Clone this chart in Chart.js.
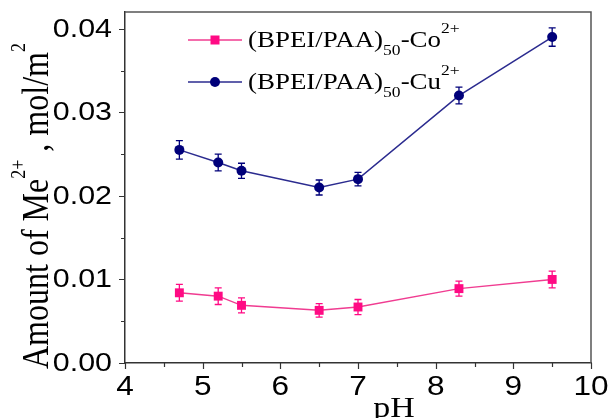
<!DOCTYPE html>
<html><head><meta charset="utf-8">
<script src="https://cdn.jsdelivr.net/npm/chart.js@4/dist/chart.umd.min.js"></script>
<style>html,body{margin:0;padding:0;background:#fff;}#wrap{width:611px;height:418px;position:relative;}</style>
</head><body><div id="wrap"><canvas id="c" width="611" height="418"></canvas></div>
<script>
// ---- data ----
const pH = [4.7, 5.2, 5.5, 6.5, 7.0, 8.3, 9.5];
const coValues = [0.0084, 0.0080, 0.0069, 0.0063, 0.0067, 0.0089, 0.0100];
const coErrors = [0.0010, 0.0010, 0.0009, 0.0008, 0.0009, 0.0009, 0.0010];
const cuValues = [0.0255, 0.0240, 0.0230, 0.0210, 0.0220, 0.0320, 0.0390];
const cuErrors = [0.0011, 0.0010, 0.0009, 0.0009, 0.0008, 0.0010, 0.0011];
const seriesNames = ['(BPEI/PAA)_{50}-Co^{2+}', '(BPEI/PAA)_{50}-Cu^{2+}'];
const xTickLabels = ['4', '5', '6', '7', '8', '9', '10'];
const yTickLabels = ['0.00', '0.01', '0.02', '0.03', '0.04'];
const xTitle = 'pH';
const yTitle = 'Amount of Me^{2+} , mol/m^{2}';

const CO_COLOR = '#ff0a84', CO_LINE = '#f03c91';
const CU_COLOR = '#00007a', CU_LINE = '#2b2b8f';
const SX = 1.17;

function parseRich(s) {
  const parts = []; const re = /([_^])\{([^}]*)\}|([^_^]+)/g; let m;
  while ((m = re.exec(s))) {
    if (m[3]) parts.push({ t: m[3], k: 'n' });
    else parts.push({ t: m[2], k: m[1] === '_' ? 'sub' : 'sup' });
  }
  return parts;
}
function drawRich(ctx, parts, x, y, main, small, subDy, supDy) {
  let cx = x;
  for (const p of parts) {
    ctx.font = p.k === 'n' ? main : small;
    const dy = p.k === 'sub' ? subDy : (p.k === 'sup' ? supDy : 0);
    ctx.fillText(p.t, cx, y + dy);
    cx += ctx.measureText(p.t).width;
  }
  return cx - x;
}

const errors = [coErrors, cuErrors];

const decor = {
  id: 'decor',
  beforeDatasetsDraw(chart) {
    const ctx = chart.ctx, xs = chart.scales.x, ys = chart.scales.y;
    chart.data.datasets.forEach((ds, di) => {
      ctx.save();
      ctx.strokeStyle = ds.pointBackgroundColor; ctx.lineWidth = 1.3;
      ds.data.forEach((p, i) => {
        const px = xs.getPixelForValue(p.x);
        const y1 = ys.getPixelForValue(p.y - errors[di][i]);
        const y2 = ys.getPixelForValue(p.y + errors[di][i]);
        ctx.beginPath();
        ctx.moveTo(px, y1); ctx.lineTo(px, y2);
        ctx.moveTo(px - 3.5, y1); ctx.lineTo(px + 3.5, y1);
        ctx.moveTo(px - 3.5, y2); ctx.lineTo(px + 3.5, y2);
        ctx.stroke();
      });
      ctx.restore();
    });
  },
  afterDraw(chart) {
    const ctx = chart.ctx, xs = chart.scales.x, ys = chart.scales.y, a = chart.chartArea;
    ctx.save();
    // frame top/right
    ctx.strokeStyle = '#555'; ctx.lineWidth = 1.5;
    ctx.beginPath();
    ctx.moveTo(a.left, a.top); ctx.lineTo(a.right, a.top); ctx.lineTo(a.right, a.bottom);
    ctx.stroke();
    // ticks
    ctx.strokeStyle = '#333'; ctx.lineWidth = 1.2;
    ctx.beginPath();
    xs.ticks.forEach(t => {
      const px = Math.round(xs.getPixelForValue(t.value)) + 0.5;
      ctx.moveTo(px, a.bottom); ctx.lineTo(px, a.bottom + 6);
      const mv = t.value + 0.5;
      if (mv < xs.max) { const mx = Math.round(xs.getPixelForValue(mv)) + 0.5; ctx.moveTo(mx, a.bottom); ctx.lineTo(mx, a.bottom + 4); }
    });
    ys.ticks.forEach(t => {
      const py = Math.round(ys.getPixelForValue(t.value)) + 0.5;
      ctx.moveTo(a.left, py); ctx.lineTo(a.left - 6, py);
      const mv = t.value + 0.005;
      if (mv < ys.max) { const my = Math.round(ys.getPixelForValue(mv)) + 0.5; ctx.moveTo(a.left, my); ctx.lineTo(a.left - 4, my); }
    });
    ctx.stroke();
    // tick labels
    ctx.fillStyle = '#000';
    ctx.textBaseline = 'alphabetic';
    xs.ticks.forEach((t, i) => {
      const px = xs.getPixelForValue(t.value);
      ctx.save(); ctx.translate(px, a.bottom + 32); ctx.scale(SX, 1);
      ctx.font = '27px "Liberation Sans", Arial, sans-serif'; ctx.textAlign = 'center';
      ctx.fillText(xTickLabels[i], 0, 0); ctx.restore();
    });
    ys.ticks.forEach((t, i) => {
      const py = ys.getPixelForValue(t.value);
      ctx.save(); ctx.translate(a.left - 13, py + 8); ctx.scale(SX, 1);
      ctx.font = '26px "Liberation Sans", Arial, sans-serif'; ctx.textAlign = 'right';
      ctx.fillText(yTickLabels[i], 0, 0); ctx.restore();
    });
    // x title
    ctx.save(); ctx.translate(394, 417); ctx.scale(SX, 1);
    ctx.font = '29px "Liberation Serif", "Times New Roman", serif'; ctx.textAlign = 'center';
    ctx.fillText(xTitle, 0, 0); ctx.restore();
    // y title
    ctx.save(); ctx.translate(48, 369); ctx.scale(SX, 1); ctx.rotate(-Math.PI / 2);
    ctx.textAlign = 'left';
    drawRich(ctx, parseRich(yTitle), 0, 0, '32px "Liberation Serif", serif', '18px "Liberation Serif", serif', 8, -20);
    ctx.restore();
    // legend
    const rows = [{ y: 40, c: CO_COLOR, l: CO_LINE, s: 'rect' }, { y: 82, c: CU_COLOR, l: CU_LINE, s: 'circle' }];
    rows.forEach((r, i) => {
      ctx.strokeStyle = r.l; ctx.lineWidth = 1.5;
      ctx.beginPath(); ctx.moveTo(188, r.y); ctx.lineTo(242, r.y); ctx.stroke();
      ctx.fillStyle = r.c;
      if (r.s === 'rect') ctx.fillRect(215 - 4.5, r.y - 4.5, 9, 9);
      else { ctx.beginPath(); ctx.arc(215, r.y, 5, 0, Math.PI * 2); ctx.fill(); }
      ctx.fillStyle = '#000';
      ctx.save(); ctx.translate(248, r.y + 7); ctx.scale(SX, 1); ctx.textAlign = 'left';
      drawRich(ctx, parseRich(seriesNames[i]), 0, 0, '23px "Liberation Serif", serif', '15px "Liberation Serif", serif', 8, -14);
      ctx.restore();
    });
    ctx.restore();
  }
};

const toPts = vals => pH.map((x, i) => ({ x, y: vals[i] }));

new Chart(document.getElementById('c'), {
  type: 'line',
  data: {
    datasets: [
      { label: seriesNames[0], data: toPts(coValues), borderColor: CO_LINE, borderWidth: 1.5,
        pointStyle: 'rect', pointRadius: 6.3, pointBackgroundColor: CO_COLOR, pointBorderColor: CO_COLOR, pointBorderWidth: 0, tension: 0 },
      { label: seriesNames[1], data: toPts(cuValues), borderColor: CU_LINE, borderWidth: 1.5,
        pointStyle: 'circle', pointRadius: 5, pointBackgroundColor: CU_COLOR, pointBorderColor: CU_COLOR, pointBorderWidth: 0, tension: 0 }
    ]
  },
  options: {
    responsive: false, animation: false, devicePixelRatio: 1,
    layout: { padding: { top: 12, right: 20, left: 0, bottom: 0 } },
    plugins: { legend: { display: false }, tooltip: { enabled: false } },
    scales: {
      x: { type: 'linear', min: 4, max: 10,
        ticks: { stepSize: 1, color: 'rgba(0,0,0,0)', includeBounds: false },
        grid: { display: false }, border: { display: true, color: '#333', width: 1.5 },
        afterFit(s) { s.height = 55; } },
      y: { type: 'linear', min: 0, max: 0.042,
        ticks: { stepSize: 0.01, color: 'rgba(0,0,0,0)', includeBounds: false },
        grid: { display: false }, border: { display: true, color: '#333', width: 1.5 },
        afterFit(s) { s.width = 125; } }
    }
  },
  plugins: [decor]
});
</script></body></html>
